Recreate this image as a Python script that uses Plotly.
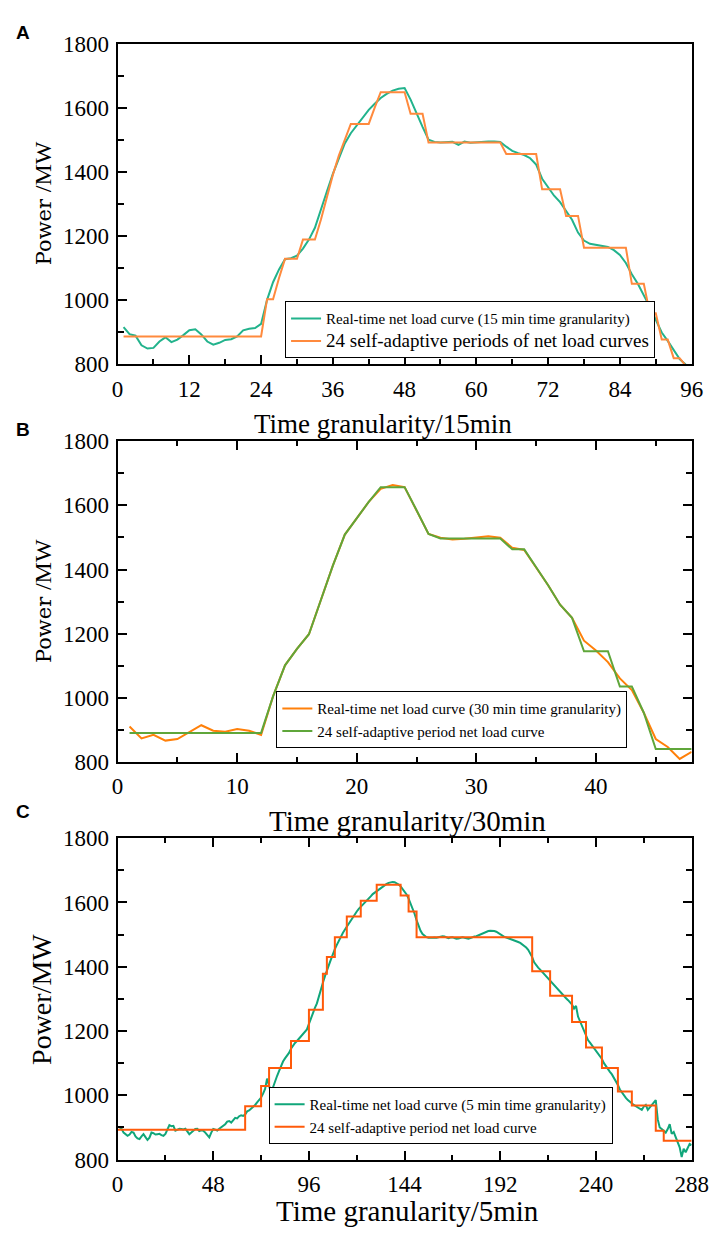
import numpy as np
import plotly.graph_objects as go

# ---------------- Panel A (15 min) ----------------
A_time = list(range(1, 97))
A_real = [915, 893, 888, 858, 848, 850, 870, 883, 868, 876, 890, 905,
          908, 892, 870, 860, 866, 875, 877, 886, 905, 910, 912, 925,
          1000, 1055, 1095, 1127, 1130, 1138, 1160, 1188, 1225, 1285, 1338, 1393,
          1440, 1488, 1520, 1545, 1568, 1593, 1612, 1630, 1643, 1653, 1659, 1661,
          1625, 1580, 1540, 1500, 1493, 1491, 1492, 1493, 1484, 1494, 1490, 1492,
          1493, 1494, 1494, 1493, 1478, 1465, 1458, 1452, 1442, 1422, 1378, 1350,
          1325, 1305, 1277, 1250, 1210, 1185, 1175, 1171, 1169, 1165, 1155, 1140,
          1115, 1080, 1050, 1015, 978, 938, 898, 872, 845, 815, 798, 785]
A_step_len = [24, 2, 1, 3, 3, 1, 1, 1, 1, 1, 4, 1, 5, 3, 13, 6, 4, 3, 8, 3, 2, 2, 2, 2]
A_step_level = [886, 1002, 1068, 1128, 1188, 1250, 1320, 1390, 1450, 1500, 1549, 1600,
                1648, 1581, 1491, 1455, 1345, 1262, 1163, 1050, 958, 876, 818, 795]

# ---------------- Panel B (30 min) ----------------
B_time = list(range(1, 49))
B_real = [910, 873, 884, 866, 871, 892, 914, 897, 894, 902, 897, 884,
          1004, 1101, 1152, 1198, 1305, 1412, 1509, 1560, 1611, 1652, 1664, 1657,
          1585, 1511, 1499, 1494, 1496, 1499, 1504, 1499, 1468, 1461, 1407, 1351,
          1290, 1249, 1178, 1147, 1111, 1060, 1024, 953, 871, 846, 809, 831]
B_step_len = [12, 1, 1, 1, 1, 1, 1, 1, 1, 1, 3, 1, 1, 6, 2, 1, 1, 1, 1, 3, 2, 1, 4]
B_step_level = [890, 1004, 1101, 1152, 1198, 1305, 1412, 1509, 1560, 1611, 1657, 1585,
                1511, 1497, 1463, 1407, 1351, 1290, 1249, 1145, 1035, 953, 840]

# ---------------- Panel C (5 min) ----------------
C_time = list(range(1, 289))
C_real = [900, 896, 884, 880, 874, 878, 886, 884, 872, 866, 864, 872,
          879, 870, 861, 868, 884, 882, 878, 879, 880, 876, 874, 880,
          893, 907, 904, 905, 890, 893, 896, 895, 894, 896, 889, 879,
          884, 890, 895, 896, 889, 891, 890, 884, 876, 869, 884, 895,
          893, 890, 896, 900, 905, 910, 918, 920, 915, 922, 930, 928,
          935, 938, 936, 940, 950, 953, 958, 964, 970, 978, 985, 993,
          1005, 1020, 1052, 1030, 1007, 1025, 1045, 1060, 1075, 1092, 1105, 1115,
          1122, 1132, 1145, 1155, 1163, 1169, 1176, 1183, 1190, 1198, 1205, 1222,
          1240, 1256, 1272, 1286, 1305, 1330, 1350, 1370, 1390, 1405, 1422, 1440,
          1455, 1468, 1482, 1494, 1505, 1515, 1525, 1536, 1546, 1554, 1562, 1572,
          1580, 1586, 1593, 1600, 1607, 1613, 1619, 1626, 1631, 1636, 1641, 1645,
          1649, 1654, 1658, 1661, 1663, 1664, 1663, 1660, 1656, 1650, 1642, 1634,
          1625, 1612, 1598, 1584, 1565, 1545, 1525, 1512, 1502, 1496, 1492, 1490,
          1489, 1490, 1491, 1490, 1492, 1494, 1495, 1494, 1492, 1489, 1491, 1492,
          1489, 1487, 1488, 1490, 1492, 1490, 1488, 1487, 1489, 1492, 1494, 1495,
          1498, 1501, 1504, 1507, 1509, 1511, 1512, 1512, 1511, 1509, 1505, 1500,
          1496, 1493, 1491, 1489, 1487, 1485, 1482, 1480, 1477, 1474, 1470, 1465,
          1460, 1453, 1443, 1430, 1414, 1404, 1397, 1391, 1384, 1378, 1370, 1365,
          1358, 1348, 1342, 1335, 1328, 1322, 1316, 1309, 1302, 1296, 1289, 1282,
          1270, 1278, 1245, 1230, 1212, 1198, 1182, 1172, 1164, 1155, 1148, 1141,
          1132, 1122, 1113, 1100, 1090, 1081, 1073, 1065, 1055, 1044, 1032, 1018,
          1008, 999, 992, 985, 979, 974, 970, 966, 962, 958, 955, 965,
          970, 955, 962, 972, 978, 985, 925, 900, 895, 888, 884, 895,
          910, 880, 886, 870, 852, 838, 808, 834, 823, 836, 849, 845]
C_step_start = [0, 64, 72, 76, 87, 96, 103, 105, 109, 115, 122, 130,
                142, 146, 150, 208, 217, 228, 235, 243, 251, 258, 270, 274]
C_step_level = [893, 966, 1029, 1085, 1169, 1266, 1378, 1430, 1492, 1556, 1605, 1655,
                1622, 1572, 1492, 1386, 1310, 1228, 1149, 1085, 1012, 968, 890, 859]
C_end = 288

# ---------------- Ticks / labels ----------------
A_xticks = [0, 12, 24, 36, 48, 60, 72, 84, 96]
B_xticks = [0, 10, 20, 30, 40]
C_xticks = [0, 48, 96, 144, 192, 240, 288]
Y_TICKS = [800, 1000, 1200, 1400, 1600, 1800]

A_names = ["Real-time net load curve (15 min time granularity)",
           "24 self-adaptive periods of net load curves"]
B_names = ["Real-time net load curve (30 min time granularity)",
           "24 self-adaptive period net load curve"]
C_names = ["Real-time net load curve (5 min time granularity)",
           "24 self-adaptive period net load curve"]

W, H = 720, 1242
def fx(p):
    return p / W
def fy(p):
    return 1 - p / H

SERIF = "Liberation Serif"
XDOM = [fx(107), fx(700)]

A_step = np.repeat(A_step_level, A_step_len)
B_step = np.repeat(B_step_level, B_step_len)

fig = go.Figure()

# Panel A
fig.add_trace(go.Scatter(x=A_time, y=A_real, mode="lines", name=A_names[0],
                         line=dict(color="#22b38c", width=2), xaxis="x", yaxis="y", legend="legend"))
fig.add_trace(go.Scatter(x=A_time, y=A_step, mode="lines",
                         name='<span style="font-size:19px">' + A_names[1] + '</span>',
                         line=dict(color="#ff8a3d", width=2), xaxis="x", yaxis="y", legend="legend"))
# Panel B
fig.add_trace(go.Scatter(x=B_time, y=B_real, mode="lines", name=B_names[0],
                         line=dict(color="#ff800a", width=2), xaxis="x2", yaxis="y2", legend="legend2"))
fig.add_trace(go.Scatter(x=B_time, y=B_step, mode="lines", name=B_names[1],
                         line=dict(color="#5fa63a", width=2), xaxis="x2", yaxis="y2", legend="legend2"))
# Panel C
fig.add_trace(go.Scatter(x=C_time, y=C_real, mode="lines", name=C_names[0],
                         line=dict(color="#10a67a", width=2), xaxis="x3", yaxis="y3", legend="legend3"))
fig.add_trace(go.Scatter(x=C_step_start + [C_end], y=C_step_level + [C_step_level[-1]],
                         mode="lines", line_shape="hv", name=C_names[1],
                         line=dict(color="#ff5a0a", width=2), xaxis="x3", yaxis="y3", legend="legend3"))

tickfont = dict(family=SERIF, size=23, color="black")

def xaxis(dom_anchor, rng, ticks, minor_dtick, mirror):
    return dict(domain=XDOM, anchor=dom_anchor, range=rng, tickmode="array", tickvals=ticks,
                ticktext=[str(t) for t in ticks], ticks="inside", ticklen=9, tickwidth=2,
                tickcolor="black", showline=True, linewidth=2, linecolor="black", mirror=mirror,
                showgrid=False, zeroline=False, tickfont=tickfont, ticklabelstandoff=3,
                minor=dict(tickmode="linear", tick0=0, dtick=minor_dtick, ticks="inside",
                           ticklen=5, tickwidth=2, tickcolor="black", showgrid=False))

def yaxis(dom_anchor, top, bottom, mirror):
    return dict(domain=[fy(bottom), fy(top)], anchor=dom_anchor, range=[800, 1800], tickmode="array",
                tickvals=Y_TICKS, ticktext=[str(t) for t in Y_TICKS], ticks="inside", ticklen=9,
                tickwidth=2, tickcolor="black", showline=True, linewidth=2, linecolor="black",
                mirror=mirror, showgrid=False, zeroline=False, tickfont=tickfont, ticklabelstandoff=2,
                minor=dict(tickmode="linear", tick0=800, dtick=100, ticks="inside",
                           ticklen=6, tickwidth=2, tickcolor="black", showgrid=False))

legend_common = dict(bgcolor="white", bordercolor="black", borderwidth=1,
                     font=dict(family=SERIF, size=15, color="black"),
                     xanchor="left", yanchor="middle", tracegroupgap=0, itemwidth=30)

annotations = []
for lab, yy in [("A", 13), ("B", 418), ("C", 808)]:
    annotations.append(dict(text="<b>" + lab + "</b>", x=fx(9), y=fy(yy), xref="paper", yref="paper",
                            showarrow=False, xanchor="center", yanchor="middle",
                            font=dict(family="Liberation Sans", size=19, color="black")))
for txt, xx, yy, sz in [("Time granularity/15min", 381, 412, 27),
                        ("Time granularity/30min", 407, 817, 29),
                        ("Time granularity/5min", 407, 1215, 29)]:
    annotations.append(dict(text=txt, x=fx(xx), y=fy(yy), xref="paper", yref="paper",
                            showarrow=False, xanchor="center", yanchor="middle",
                            font=dict(family=SERIF, size=sz, color="black")))
ptitle = ('<span style="font-family:DejaVu Serif;font-size:21px">Power </span>/MW')
for txt, xx, yy, sz in [(ptitle, 30, 187, 24), (ptitle, 30, 593, 24), ("Power/MW", 29, 1000, 28)]:
    annotations.append(dict(text=txt, x=fx(xx), y=fy(yy), xref="paper", yref="paper",
                            showarrow=False, xanchor="center", yanchor="middle", textangle=-90,
                            font=dict(family=SERIF, size=sz, color="black")))

fig.update_layout(
    width=W, height=H, autosize=False,
    margin=dict(l=0, r=0, t=0, b=0),
    paper_bgcolor="white", plot_bgcolor="white",
    font=dict(family=SERIF, color="black"),
    showlegend=True,
    xaxis=xaxis("y", [0, 96], A_xticks, 6, True),
    yaxis=yaxis("x", 24, 351, True),
    xaxis2=xaxis("y2", [0, 48], B_xticks, 5, "ticks"),
    yaxis2=yaxis("x2", 430, 757, "ticks"),
    xaxis3=xaxis("y3", [0, 288], C_xticks, 24, "ticks"),
    yaxis3=yaxis("x3", 835, 1163, "ticks"),
    legend=dict(x=fx(280), y=fy(316), **legend_common),
    legend2=dict(x=fx(271), y=fy(714), **legend_common),
    legend3=dict(x=fx(263), y=fy(1118), **legend_common),
    annotations=annotations,
)

fig.write_html("out.html")
